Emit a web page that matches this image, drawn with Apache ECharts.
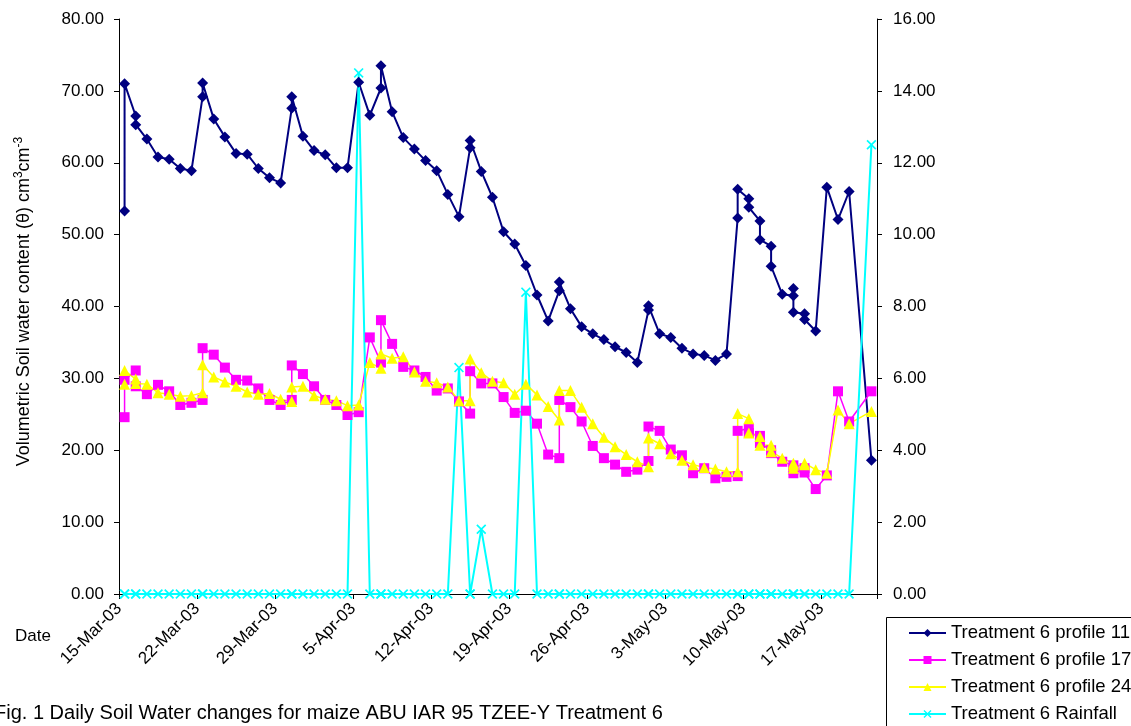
<!DOCTYPE html>
<html><head><meta charset="utf-8">
<script src="https://cdn.jsdelivr.net/npm/echarts@6/dist/echarts.min.js"></script>
<style>html,body{margin:0;padding:0;background:#fff;overflow:hidden}#c{width:1131px;height:726px}</style>
</head><body><div id="c"></div>
<script>
// Row dates (several readings on the same day are repeated)
const dates = [
'2003-03-15','2003-03-15','2003-03-16','2003-03-16','2003-03-17','2003-03-18','2003-03-19','2003-03-20','2003-03-21',
'2003-03-22','2003-03-22','2003-03-23','2003-03-24','2003-03-25','2003-03-26','2003-03-27','2003-03-28','2003-03-29',
'2003-03-30','2003-03-30','2003-03-31','2003-04-01','2003-04-02','2003-04-03','2003-04-04','2003-04-05','2003-04-06',
'2003-04-07','2003-04-07','2003-04-08','2003-04-09','2003-04-10','2003-04-11','2003-04-12','2003-04-13','2003-04-14',
'2003-04-15','2003-04-15','2003-04-16','2003-04-17','2003-04-18','2003-04-19','2003-04-20','2003-04-21','2003-04-22',
'2003-04-23','2003-04-23','2003-04-24','2003-04-25','2003-04-26','2003-04-27','2003-04-28','2003-04-29','2003-04-30',
'2003-05-01','2003-05-01','2003-05-02','2003-05-03','2003-05-04','2003-05-05','2003-05-06','2003-05-07','2003-05-08',
'2003-05-09','2003-05-09','2003-05-10','2003-05-10','2003-05-11','2003-05-11','2003-05-12','2003-05-12','2003-05-13',
'2003-05-14','2003-05-14','2003-05-14','2003-05-15','2003-05-15','2003-05-16','2003-05-17','2003-05-18','2003-05-19',
'2003-05-21'
];
const profile11 = [
53.3,71.0,66.5,65.3,63.3,60.8,60.5,59.2,58.9,
69.2,71.1,66.1,63.6,61.3,61.2,59.2,57.9,57.2,
67.6,69.2,63.7,61.7,61.1,59.3,59.3,71.2,66.6,
70.4,73.5,67.1,63.5,61.9,60.3,58.9,55.6,52.5,
62.1,63.1,58.8,55.2,50.4,48.7,45.7,41.6,38.0,
42.2,43.4,39.7,37.2,36.2,35.4,34.4,33.6,32.2,
39.5,40.1,36.2,35.7,34.2,33.4,33.2,32.5,33.4,
52.3,56.3,55.0,53.8,51.9,49.3,48.4,45.6,41.7,
41.5,42.5,39.2,39.0,38.2,36.6,56.6,52.1,56.0,
18.6
];
const profile17 = [
24.6,29.8,31.1,28.9,27.8,29.1,28.2,26.3,26.6,
27.0,34.2,33.3,31.5,29.8,29.7,28.6,27.0,26.3,
27.0,31.8,30.6,28.9,27.0,26.3,24.9,25.3,35.7,
32.2,38.1,34.8,31.6,31.1,30.2,28.3,28.6,26.8,
25.1,31.0,29.3,29.3,27.4,25.2,25.5,23.7,19.4,
18.9,27.0,26.0,24.0,20.6,18.9,18.0,17.0,17.3,
18.5,23.3,22.7,20.1,19.3,16.8,17.5,16.1,16.3,
16.4,22.7,23.0,22.4,22.0,21.0,20.0,19.6,18.4,
17.9,17.3,16.8,17.5,16.9,14.6,16.5,28.2,24.0,
28.2
];
const profile24 = [
29.2,31.1,29.9,29.3,29.2,28.0,27.8,27.5,27.6,
28.0,31.9,30.2,29.5,28.9,28.1,27.8,27.9,27.1,
26.8,28.8,28.9,27.6,27.1,26.9,26.2,26.3,32.2,
31.4,33.4,32.8,33.0,30.9,29.6,29.4,28.8,26.9,
26.9,32.7,30.8,29.6,29.4,27.8,29.2,27.7,26.1,
24.2,28.3,28.3,26.0,23.7,21.8,20.5,19.4,18.4,
17.7,21.7,20.9,19.5,18.6,18.0,17.6,17.4,17.0,
17.0,25.1,24.4,22.4,21.9,20.7,20.7,19.8,18.9,
18.2,17.9,17.5,18.2,18.0,17.3,16.8,25.6,23.7,
25.4
];
const rainfall = [
0,0,0,0,0,0,0,0,0,
0,0,0,0,0,0,0,0,0,
0,0,0,0,0,0,0,14.5,0,
0,0,0,0,0,0,0,0,6.3,
0,0,1.8,0,0,0,8.4,0,0,
0,0,0,0,0,0,0,0,0,
0,0,0,0,0,0,0,0,0,
0,0,0,0,0,0,0,0,0,
0,0,0,0,0,0,0,0,0,
12.5
];
const tickLabels = ['15-Mar-03','22-Mar-03','29-Mar-03','5-Apr-03','12-Apr-03','19-Apr-03','26-Apr-03','3-May-03','10-May-03','17-May-03'];
const seriesNames = ['Treatment 6 profile 11','Treatment 6 profile 17','Treatment 6 profile 24','Treatment 6 Rainfall'];

const start = Date.UTC(2003,2,15);
function dayPos(s){const p=s.split('-').map(Number);return (Date.UTC(p[0],p[1]-1,p[2])-start)/86400000+0.5;}
const xs = dates.map(dayPos);
const pairs = arr => arr.map((v,i)=>[xs[i],v]);

const FONT = 'Liberation Sans, Arial, sans-serif';
const xSym = 'path://M0,1.2L1.2,0L5,3.8L8.8,0L10,1.2L6.2,5L10,8.8L8.8,10L5,6.2L1.2,10L0,8.8L3.8,5Z';

const chart = echarts.init(document.getElementById('c'), null, {renderer:'canvas'});
const axisLine = {show:true, lineStyle:{color:'#000', width:1}};
chart.setOption({
  animation:false,
  backgroundColor:'#fff',
  textStyle:{fontFamily:FONT},
  grid:{left:119, right:254, top:19, bottom:132, containLabel:false},
  xAxis:{type:'value', min:0, max:68, interval:7,
    axisLine:axisLine, axisTick:{show:true, length:5, lineStyle:{color:'#000'}},
    splitLine:{show:false},
    axisLabel:{rotate:45, fontSize:17, color:'#000', fontFamily:FONT, margin:12,
      formatter:v=> (v%7===0 && tickLabels[v/7]) ? tickLabels[v/7] : ''}},
  yAxis:[
    {type:'value', min:0, max:80, interval:10, position:'left',
     axisLine:axisLine, axisTick:{show:true, length:5, lineStyle:{color:'#000'}},
     splitLine:{show:false},
     axisLabel:{fontSize:17, color:'#000', fontFamily:FONT, margin:15, formatter:v=>v.toFixed(2)},
     name:'Volumetric Soil water content (θ) cm{sup|3}cm{sup|-3}', nameLocation:'middle', nameGap:84,
     nameTextStyle:{fontSize:18, color:'#000', fontFamily:FONT, lineHeight:22, padding:[0,0,0,10],
       rich:{sup:{fontSize:12, fontFamily:FONT, color:'#000', verticalAlign:'top', lineHeight:22}}}},
    {type:'value', min:0, max:16, interval:2, position:'right',
     axisLine:axisLine, axisTick:{show:true, length:5, lineStyle:{color:'#000'}},
     splitLine:{show:false},
     axisLabel:{fontSize:17, color:'#000', fontFamily:FONT, margin:16, formatter:v=>v.toFixed(2)}}
  ],
  legend:{orient:'vertical', left:886, top:617, height:200, padding:[6,0,0,22], itemGap:7, z:10,
    itemWidth:37, itemHeight:10,
    textStyle:{fontSize:18.5, lineHeight:20, color:'#000', fontFamily:FONT}, data:seriesNames},
  graphic:[
    {type:'rect', z:5, shape:{x:886.5, y:617.5, width:300, height:200}, style:{fill:'#fff', stroke:'#000', lineWidth:1}},
    {type:'text', x:15, y:628, style:{text:'Date', font:'17px '+FONT, fill:'#000'}},
    {type:'text', x:-6, y:703, style:{text:'Fig. 1 Daily Soil Water changes for maize ABU IAR 95 TZEE-Y Treatment 6', font:'20px '+FONT, fill:'#000'}}
  ],
  series:[
    {name:seriesNames[0], type:'line', data:pairs(profile11), symbol:'diamond', symbolSize:11,
     itemStyle:{color:'#000080'}, lineStyle:{color:'#000080', width:2}},
    {name:seriesNames[1], type:'line', data:pairs(profile17), symbol:'rect', symbolSize:10,
     itemStyle:{color:'#FF00FF'}, lineStyle:{color:'#FF00FF', width:1.5}},
    {name:seriesNames[2], type:'line', data:pairs(profile24), symbol:'triangle', symbolSize:11,
     itemStyle:{color:'#FFFF00'}, lineStyle:{color:'#FFFF00', width:1.5}},
    {name:seriesNames[3], type:'line', yAxisIndex:1, data:pairs(rainfall), symbol:xSym, symbolSize:10,
     itemStyle:{color:'#00FFFF'}, lineStyle:{color:'#00FFFF', width:2}}
  ]
});
</script></body></html>
